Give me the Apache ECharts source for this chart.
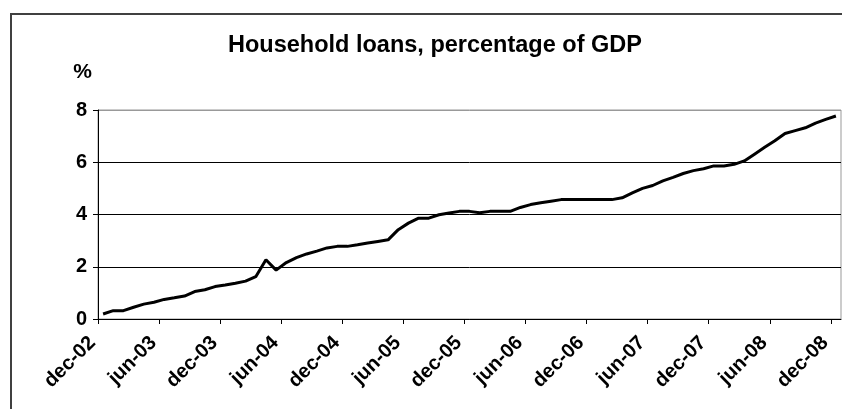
<!DOCTYPE html>
<html>
<head>
<meta charset="utf-8">
<script src="https://cdn.jsdelivr.net/npm/echarts@6/dist/echarts.min.js"></script>
<style>html,body{margin:0;padding:0;background:#fff;}#c{width:842px;height:409px;}</style>
</head>
<body>
<div id="c"></div>
<script>
const titleText = 'Household loans, percentage of GDP';
const unitLabel = '%';
const monthNames = ['jan','feb','mar','apr','may','jun','jul','aug','sep','oct','nov','dec'];
// monthly categories dec-02 .. dec-08
const months = [];
for (let k = 0; k < 73; k++) {
  const m = (11 + k) % 12;
  const y = 2 + Math.floor((11 + k) / 12);
  months.push(monthNames[m] + '-' + String(y).padStart(2, '0'));
}
const loans = [
  0.19, 0.32, 0.32, 0.45, 0.57, 0.64, 0.75, 0.81, 0.88, 1.05, 1.12, 1.24,
  1.30, 1.37, 1.45, 1.62, 2.27, 1.87, 2.16, 2.35, 2.49, 2.60, 2.72, 2.78,
  2.78, 2.84, 2.91, 2.97, 3.03, 3.42, 3.67, 3.86, 3.86, 3.99, 4.06, 4.12,
  4.12, 4.07, 4.12, 4.12, 4.12, 4.27, 4.38, 4.45, 4.51, 4.57, 4.57, 4.57,
  4.57, 4.57, 4.57, 4.64, 4.83, 5.00, 5.11, 5.29, 5.42, 5.57, 5.68, 5.75,
  5.86, 5.86, 5.92, 6.05, 6.31, 6.57, 6.82, 7.10, 7.21, 7.32, 7.50, 7.64,
  7.77
];
const yTicks = [0, 2, 4, 6, 8];

const chart = echarts.init(document.getElementById('c'), null, {renderer: 'canvas'});
const font = 'Liberation Sans, Arial, sans-serif';
chart.setOption({
  animation: false,
  backgroundColor: '#fff',
  title: {
    text: titleText,
    left: 228, top: 34, padding: 0,
    textStyle: {fontFamily: font, fontWeight: 'bold', fontSize: 23.5, color: '#000'}
  },
  graphic: [{
    type: 'rect', silent: true, z: -1,
    shape: {x: 11, y: 14, width: 900, height: 500},
    style: {fill: 'none', stroke: '#404040', lineWidth: 2}
  }],
  grid: {left: 98, right: 1, top: 110, bottom: 90, show: true, borderColor: '#999', borderWidth: 1, backgroundColor: 'transparent'},
  xAxis: {
    type: 'value', min: 0, max: months.length, interval: 6,
    axisLine: {show: true, lineStyle: {color: '#000', width: 1}},
    axisTick: {show: true, length: 5, lineStyle: {color: '#000'}},
    splitLine: {show: false},
    axisLabel: {
      rotate: 45, margin: 15, showMaxLabel: false, padding: [0, 8, 0, 0],
      fontFamily: font, fontWeight: 'bold', fontSize: 20, color: '#000',
      formatter: v => months[v] || ''
    }
  },
  yAxis: {
    type: 'value', min: yTicks[0], max: yTicks[yTicks.length - 1], interval: 2,
    name: unitLabel, nameLocation: 'end', nameGap: 38,
    nameTextStyle: {fontFamily: font, fontWeight: 'bold', fontSize: 21, color: '#000', align: 'right', verticalAlign: 'middle', padding: [0, 6, 0, 0]},
    axisLine: {show: true, lineStyle: {color: '#000', width: 1}},
    axisTick: {show: true, length: 5, lineStyle: {color: '#000'}},
    splitLine: {show: true, lineStyle: {color: ['#000', '#000', '#000', '#000', '#999'], width: 1}},
    axisLabel: {margin: 11, fontFamily: font, fontWeight: 'bold', fontSize: 20, color: '#000'}
  },
  series: [{
    type: 'line',
    data: loans.map((v, i) => [i + 0.5, v]),
    symbol: 'none',
    lineStyle: {color: '#000', width: 3},
    z: 5
  }]
});
</script>
</body>
</html>
